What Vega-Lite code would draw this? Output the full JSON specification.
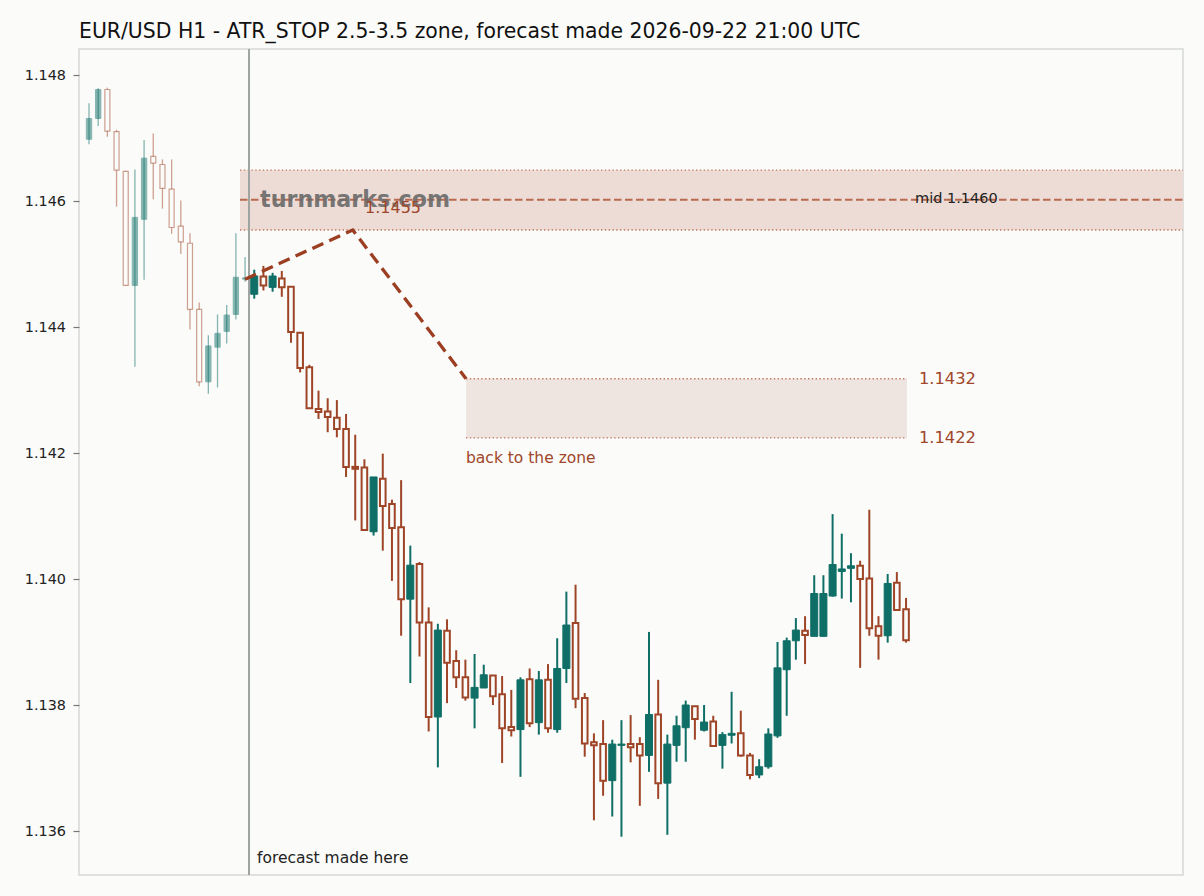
{
  "$schema": "https://vega.github.io/schema/vega-lite/v6.json",
  "width": 1104,
  "height": 826,
  "autosize": {"type": "none"},
  "padding": {"left": 79, "top": 49, "right": 21, "bottom": 21},
  "background": "#fbfbf9",
  "title": {
    "text": "EUR/USD H1 - ATR_STOP 2.5-3.5 zone, forecast made 2026-09-22 21:00 UTC",
    "anchor": "start",
    "frame": "group",
    "baseline": "alphabetic",
    "offset": 10,
    "dy": 20,
    "font": "DejaVu Sans",
    "fontSize": 20.4,
    "fontWeight": "normal",
    "color": "#111111"
  },
  "config": {
    "view": {"stroke": "#d5d9d5", "strokeWidth": 1.5},
    "axis": {
      "grid": false,
      "domain": false,
      "tickColor": "#777777",
      "tickSize": 6,
      "tickWidth": 1.2,
      "labelFont": "DejaVu Sans",
      "labelFontSize": 14.4,
      "labelColor": "#222222",
      "labelPadding": 7.5
    },
    "text": {"font": "DejaVu Sans"}
  },
  "datasets": {
    "candles": [
      {"i": 0, "o": 1.14698, "h": 1.14755, "l": 1.14690, "c": 1.14731},
      {"i": 1, "o": 1.14731, "h": 1.14779, "l": 1.14719, "c": 1.14777},
      {"i": 2, "o": 1.14777, "h": 1.14780, "l": 1.14702, "c": 1.14711},
      {"i": 3, "o": 1.14710, "h": 1.14713, "l": 1.14591, "c": 1.14649},
      {"i": 4, "o": 1.14647, "h": 1.14648, "l": 1.14465, "c": 1.14466},
      {"i": 5, "o": 1.14466, "h": 1.14650, "l": 1.14337, "c": 1.14574},
      {"i": 6, "o": 1.14571, "h": 1.14697, "l": 1.14475, "c": 1.14668},
      {"i": 7, "o": 1.14671, "h": 1.14707, "l": 1.14603, "c": 1.14660},
      {"i": 8, "o": 1.14658, "h": 1.14666, "l": 1.14588, "c": 1.14620},
      {"i": 9, "o": 1.14619, "h": 1.14666, "l": 1.14548, "c": 1.14558},
      {"i": 10, "o": 1.14560, "h": 1.14601, "l": 1.14516, "c": 1.14535},
      {"i": 11, "o": 1.14533, "h": 1.14549, "l": 1.14396, "c": 1.14428},
      {"i": 12, "o": 1.14428, "h": 1.14439, "l": 1.14306, "c": 1.14313},
      {"i": 13, "o": 1.14313, "h": 1.14387, "l": 1.14294, "c": 1.14370},
      {"i": 14, "o": 1.14368, "h": 1.14420, "l": 1.14304, "c": 1.14390},
      {"i": 15, "o": 1.14393, "h": 1.14435, "l": 1.14374, "c": 1.14419},
      {"i": 16, "o": 1.14420, "h": 1.14549, "l": 1.14412, "c": 1.14479},
      {"i": 17, "o": 1.14476, "h": 1.14511, "l": 1.14472, "c": 1.14478},
      {"i": 18, "o": 1.14452, "h": 1.14491, "l": 1.14445, "c": 1.14481},
      {"i": 19, "o": 1.14480, "h": 1.14497, "l": 1.14458, "c": 1.14466},
      {"i": 20, "o": 1.14463, "h": 1.14486, "l": 1.14456, "c": 1.14481},
      {"i": 21, "o": 1.14477, "h": 1.14489, "l": 1.14448, "c": 1.14463},
      {"i": 22, "o": 1.14464, "h": 1.14464, "l": 1.14375, "c": 1.14392},
      {"i": 23, "o": 1.14391, "h": 1.14391, "l": 1.14328, "c": 1.14335},
      {"i": 24, "o": 1.14336, "h": 1.14340, "l": 1.14271, "c": 1.14271},
      {"i": 25, "o": 1.14270, "h": 1.14299, "l": 1.14254, "c": 1.14265},
      {"i": 26, "o": 1.14266, "h": 1.14287, "l": 1.14233, "c": 1.14257},
      {"i": 27, "o": 1.14256, "h": 1.14284, "l": 1.14225, "c": 1.14238},
      {"i": 28, "o": 1.14238, "h": 1.14262, "l": 1.14162, "c": 1.14178},
      {"i": 29, "o": 1.14178, "h": 1.14229, "l": 1.14093, "c": 1.14175},
      {"i": 30, "o": 1.14177, "h": 1.14190, "l": 1.14078, "c": 1.14078},
      {"i": 31, "o": 1.14075, "h": 1.14162, "l": 1.14069, "c": 1.14162},
      {"i": 32, "o": 1.14159, "h": 1.14199, "l": 1.14045, "c": 1.14116},
      {"i": 33, "o": 1.14119, "h": 1.14126, "l": 1.13997, "c": 1.14081},
      {"i": 34, "o": 1.14082, "h": 1.14157, "l": 1.13910, "c": 1.13968},
      {"i": 35, "o": 1.13968, "h": 1.14053, "l": 1.13835, "c": 1.14022},
      {"i": 36, "o": 1.14024, "h": 1.14027, "l": 1.13877, "c": 1.13931},
      {"i": 37, "o": 1.13931, "h": 1.13955, "l": 1.13758, "c": 1.13781},
      {"i": 38, "o": 1.13781, "h": 1.13929, "l": 1.13701, "c": 1.13919},
      {"i": 39, "o": 1.13918, "h": 1.13936, "l": 1.13803, "c": 1.13867},
      {"i": 40, "o": 1.13870, "h": 1.13887, "l": 1.13827, "c": 1.13844},
      {"i": 41, "o": 1.13844, "h": 1.13872, "l": 1.13807, "c": 1.13812},
      {"i": 42, "o": 1.13811, "h": 1.13881, "l": 1.13763, "c": 1.13828},
      {"i": 43, "o": 1.13827, "h": 1.13864, "l": 1.13827, "c": 1.13848},
      {"i": 44, "o": 1.13847, "h": 1.13847, "l": 1.13800, "c": 1.13814},
      {"i": 45, "o": 1.13817, "h": 1.13846, "l": 1.13708, "c": 1.13763},
      {"i": 46, "o": 1.13765, "h": 1.13824, "l": 1.13750, "c": 1.13760},
      {"i": 47, "o": 1.13761, "h": 1.13844, "l": 1.13686, "c": 1.13840},
      {"i": 48, "o": 1.13841, "h": 1.13858, "l": 1.13765, "c": 1.13771},
      {"i": 49, "o": 1.13772, "h": 1.13854, "l": 1.13753, "c": 1.13840},
      {"i": 50, "o": 1.13840, "h": 1.13865, "l": 1.13756, "c": 1.13763},
      {"i": 51, "o": 1.13761, "h": 1.13906, "l": 1.13756, "c": 1.13858},
      {"i": 52, "o": 1.13858, "h": 1.13980, "l": 1.13835, "c": 1.13927},
      {"i": 53, "o": 1.13930, "h": 1.13991, "l": 1.13795, "c": 1.13810},
      {"i": 54, "o": 1.13811, "h": 1.13819, "l": 1.13718, "c": 1.13739},
      {"i": 55, "o": 1.13741, "h": 1.13755, "l": 1.13617, "c": 1.13736},
      {"i": 56, "o": 1.13738, "h": 1.13776, "l": 1.13656, "c": 1.13680},
      {"i": 57, "o": 1.13680, "h": 1.13745, "l": 1.13623, "c": 1.13738},
      {"i": 58, "o": 1.13736, "h": 1.13776, "l": 1.13591, "c": 1.13738},
      {"i": 59, "o": 1.13738, "h": 1.13784, "l": 1.13709, "c": 1.13733},
      {"i": 60, "o": 1.13738, "h": 1.13749, "l": 1.13640, "c": 1.13720},
      {"i": 61, "o": 1.13720, "h": 1.13916, "l": 1.13694, "c": 1.13785},
      {"i": 62, "o": 1.13785, "h": 1.13840, "l": 1.13651, "c": 1.13676},
      {"i": 63, "o": 1.13676, "h": 1.13753, "l": 1.13594, "c": 1.13738},
      {"i": 64, "o": 1.13736, "h": 1.13783, "l": 1.13710, "c": 1.13767},
      {"i": 65, "o": 1.13764, "h": 1.13807, "l": 1.13710, "c": 1.13800},
      {"i": 66, "o": 1.13798, "h": 1.13798, "l": 1.13745, "c": 1.13778},
      {"i": 67, "o": 1.13760, "h": 1.13800, "l": 1.13758, "c": 1.13773},
      {"i": 68, "o": 1.13774, "h": 1.13783, "l": 1.13735, "c": 1.13735},
      {"i": 69, "o": 1.13736, "h": 1.13757, "l": 1.13699, "c": 1.13753},
      {"i": 70, "o": 1.13752, "h": 1.13821, "l": 1.13739, "c": 1.13755},
      {"i": 71, "o": 1.13755, "h": 1.13791, "l": 1.13718, "c": 1.13720},
      {"i": 72, "o": 1.13720, "h": 1.13724, "l": 1.13682, "c": 1.13689},
      {"i": 73, "o": 1.13689, "h": 1.13714, "l": 1.13684, "c": 1.13702},
      {"i": 74, "o": 1.13702, "h": 1.13763, "l": 1.13699, "c": 1.13754},
      {"i": 75, "o": 1.13751, "h": 1.13900, "l": 1.13748, "c": 1.13859},
      {"i": 76, "o": 1.13856, "h": 1.13907, "l": 1.13783, "c": 1.13902},
      {"i": 77, "o": 1.13902, "h": 1.13938, "l": 1.13872, "c": 1.13919},
      {"i": 78, "o": 1.13918, "h": 1.13941, "l": 1.13865, "c": 1.13911},
      {"i": 79, "o": 1.13909, "h": 1.14006, "l": 1.13909, "c": 1.13977},
      {"i": 80, "o": 1.13909, "h": 1.14006, "l": 1.13909, "c": 1.13977},
      {"i": 81, "o": 1.13973, "h": 1.14103, "l": 1.13972, "c": 1.14023},
      {"i": 82, "o": 1.14012, "h": 1.14072, "l": 1.13969, "c": 1.14016},
      {"i": 83, "o": 1.14017, "h": 1.14041, "l": 1.13963, "c": 1.14021},
      {"i": 84, "o": 1.14021, "h": 1.14029, "l": 1.13859, "c": 1.14000},
      {"i": 85, "o": 1.14001, "h": 1.14110, "l": 1.13910, "c": 1.13922},
      {"i": 86, "o": 1.13925, "h": 1.13941, "l": 1.13872, "c": 1.13910},
      {"i": 87, "o": 1.13910, "h": 1.14008, "l": 1.13899, "c": 1.13993},
      {"i": 88, "o": 1.13994, "h": 1.14011, "l": 1.13951, "c": 1.13951},
      {"i": 89, "o": 1.13952, "h": 1.13970, "l": 1.13899, "c": 1.13903}
    ],
    "upperZone": [{"x1": 16.45, "x2": 119.17, "lo": 1.14554, "hi": 1.14649, "mid": 1.14602}],
    "lowerZone": [{"x1": 41.07, "x2": 89.1, "lo": 1.14224, "hi": 1.14318}],
    "zoneEdges": [
      {"x1": 16.45, "x2": 119.17, "y": 1.14649},
      {"x1": 16.45, "x2": 119.17, "y": 1.14554},
      {"x1": 41.07, "x2": 89.1, "y": 1.14318},
      {"x1": 41.07, "x2": 89.1, "y": 1.14224}
    ],
    "path": [
      {"x": 17, "y": 1.14476},
      {"x": 28.73, "y": 1.14554},
      {"x": 41.07, "y": 1.14318}
    ],
    "one": [{}]
  },
  "layer": [
    {
      "data": {"name": "upperZone"},
      "mark": {"type": "rect", "color": "#ecdcd5"},
      "encoding": {
        "x": {"field": "x1", "type": "quantitative", "scale": {"domain": [-1.09, 119.17], "nice": false, "zero": false, "padding": 0}, "axis": null},
        "x2": {"field": "x2"},
        "y": {"field": "lo", "type": "quantitative", "scale": {"domain": [1.135302, 1.148413], "nice": false, "zero": false, "padding": 0},
          "axis": {"title": null, "values": [1.136, 1.138, 1.14, 1.142, 1.144, 1.146, 1.148], "format": ".3f"}
        },
        "y2": {"field": "hi"}
      }
    },
    {
      "data": {"name": "lowerZone"},
      "mark": {"type": "rect", "color": "#efe5e0"},
      "encoding": {
        "x": {"field": "x1", "type": "quantitative"},
        "x2": {"field": "x2"},
        "y": {"field": "lo", "type": "quantitative"},
        "y2": {"field": "hi"}
      }
    },
    {
      "data": {"name": "zoneEdges"},
      "mark": {"type": "rule", "color": "#c0765f", "strokeWidth": 1.4, "strokeDash": [1.4, 2.4]},
      "encoding": {
        "x": {"field": "x1", "type": "quantitative"},
        "x2": {"field": "x2"},
        "y": {"field": "y", "type": "quantitative"}
      }
    },
    {
      "data": {"name": "upperZone"},
      "mark": {"type": "rule", "color": "#b8694f", "strokeWidth": 2, "strokeDash": [7.5, 3.5]},
      "encoding": {
        "x": {"field": "x1", "type": "quantitative"},
        "x2": {"field": "x2"},
        "y": {"field": "mid", "type": "quantitative"}
      }
    },
    {
      "data": {"name": "one"},
      "mark": {"type": "rule", "color": "#a0a4a0", "strokeWidth": 2},
      "encoding": {"x": {"datum": 17.43, "type": "quantitative"}}
    },
    {
      "data": {"name": "candles"},
      "mark": {"type": "rule"},
      "encoding": {
        "x": {"field": "i", "type": "quantitative"},
        "y": {"field": "l", "type": "quantitative"},
        "y2": {"field": "h"},
        "color": {"condition": {"test": "datum.c >= datum.o", "value": "#0f6f67"}, "value": "#9f4527"},
        "opacity": {"condition": {"test": "datum.i < 17.5", "value": 0.5}, "value": 1},
        "strokeWidth": {"condition": {"test": "datum.i < 17.5", "value": 1.3}, "value": 2}
      }
    },
    {
      "data": {"name": "candles"},
      "transform": [{"filter": "datum.c >= datum.o"}],
      "mark": {"type": "bar", "color": "#0f6f67", "stroke": "#0f6f67", "strokeWidth": 1},
      "encoding": {
        "x": {"field": "i", "type": "quantitative"},
        "y": {"field": "o", "type": "quantitative"},
        "y2": {"field": "c"},
        "size": {"condition": {"test": "datum.i < 17.5", "value": 5.3}, "value": 7},
        "opacity": {"condition": {"test": "datum.i < 17.5", "value": 0.5}, "value": 1}
      }
    },
    {
      "data": {"name": "candles"},
      "transform": [{"filter": "datum.c < datum.o"}],
      "mark": {"type": "bar", "fill": "#fbfbf9", "fillOpacity": 1, "stroke": "#9f4527"},
      "encoding": {
        "x": {"field": "i", "type": "quantitative"},
        "y": {"field": "o", "type": "quantitative"},
        "y2": {"field": "c"},
        "size": {"condition": {"test": "datum.i < 17.5", "value": 5}, "value": 5.6},
        "strokeWidth": {"condition": {"test": "datum.i < 17.5", "value": 1.2}, "value": 2},
        "strokeOpacity": {"condition": {"test": "datum.i < 17.5", "value": 0.5}, "value": 1}
      }
    },
    {
      "data": {"name": "path"},
      "mark": {"type": "line", "color": "#9b3e22", "strokeWidth": 3.3, "strokeDash": [12, 6.5], "strokeCap": "butt"},
      "encoding": {
        "x": {"field": "x", "type": "quantitative"},
        "y": {"field": "y", "type": "quantitative"}
      }
    },
    {
      "data": {"name": "one"},
      "mark": {"type": "text", "align": "left", "baseline": "middle", "fontSize": 22.2, "fontWeight": "bold", "color": "#6a6a6a", "opacity": 0.9},
      "encoding": {
        "x": {"datum": 18.63, "type": "quantitative"},
        "y": {"datum": 1.14602, "type": "quantitative"},
        "text": {"value": "turnmarks.com"}
      }
    },
    {
      "data": {"name": "one"},
      "mark": {"type": "text", "align": "left", "baseline": "middle", "fontSize": 16, "color": "#a0462a"},
      "encoding": {
        "x": {"datum": 30.07, "type": "quantitative"},
        "y": {"datum": 1.14589, "type": "quantitative"},
        "text": {"value": "1.1455"}
      }
    },
    {
      "data": {"name": "one"},
      "mark": {"type": "text", "align": "left", "baseline": "middle", "fontSize": 14.5, "color": "#222222"},
      "encoding": {
        "x": {"datum": 89.98, "type": "quantitative"},
        "y": {"datum": 1.14604, "type": "quantitative"},
        "text": {"value": "mid 1.1460"}
      }
    },
    {
      "data": {"name": "one"},
      "mark": {"type": "text", "align": "left", "baseline": "middle", "fontSize": 16.3, "color": "#a0462a"},
      "encoding": {
        "x": {"datum": 90.4, "type": "quantitative"},
        "y": {"datum": 1.14318, "type": "quantitative"},
        "text": {"value": "1.1432"}
      }
    },
    {
      "data": {"name": "one"},
      "mark": {"type": "text", "align": "left", "baseline": "middle", "fontSize": 16.3, "color": "#a0462a"},
      "encoding": {
        "x": {"datum": 90.4, "type": "quantitative"},
        "y": {"datum": 1.14224, "type": "quantitative"},
        "text": {"value": "1.1422"}
      }
    },
    {
      "data": {"name": "one"},
      "mark": {"type": "text", "align": "left", "baseline": "middle", "fontSize": 15.5, "color": "#a0462a"},
      "encoding": {
        "x": {"datum": 41.07, "type": "quantitative"},
        "y": {"datum": 1.14192, "type": "quantitative"},
        "text": {"value": "back to the zone"}
      }
    },
    {
      "data": {"name": "one"},
      "mark": {"type": "text", "align": "left", "baseline": "middle", "fontSize": 15.5, "color": "#222222"},
      "encoding": {
        "x": {"datum": 18.3, "type": "quantitative"},
        "y": {"datum": 1.13557, "type": "quantitative"},
        "text": {"value": "forecast made here"}
      }
    }
  ]
}
